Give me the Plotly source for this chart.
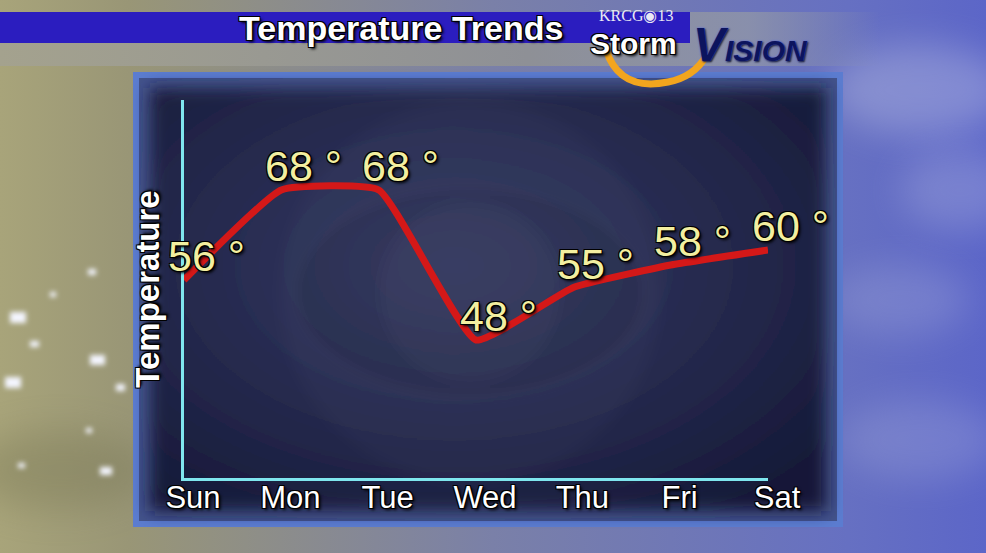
import base64
import plotly.graph_objects as go

# ---------------- data ----------------
days = ["Sun", "Mon", "Tue", "Wed", "Thu", "Fri", "Sat"]
temps = [56, 68, 68, 48, 55, 58, 60]
temp_labels = [f"{t} °" for t in temps]
chart_title = "Temperature Trends"
y_title = "Temperature"
logo_top = "KRCG◉13"
logo_storm = "Storm"
logo_vision_v = "V"
logo_vision_rest = "ISION"

# ---------------- geometry ----------------
W, H = 986, 553
L, R, T, B = 184, 218, 100, 75
PW, PH = W - L - R, H - T - B

def px_x(p):
    return (p - L) / PW

def px_y(p):
    return 1 - (p - T) / PH

svg = """<svg xmlns="http://www.w3.org/2000/svg" width="986" height="553" viewBox="0 0 986 553" preserveAspectRatio="none">
<defs>
<linearGradient id="bg" x1="0" y1="0" x2="1" y2="0">
<stop offset="0" stop-color="#a8a47a"/>
<stop offset="0.13" stop-color="#999676"/>
<stop offset="0.5" stop-color="#7a80a8"/>
<stop offset="0.86" stop-color="#6670c2"/>
<stop offset="1" stop-color="#5c66c8"/>
</linearGradient>
<linearGradient id="band" x1="0" y1="0" x2="1" y2="0">
<stop offset="0" stop-color="#a4a28e"/>
<stop offset="0.6" stop-color="#8e9096"/>
<stop offset="0.85" stop-color="#9096a8" stop-opacity="0.8"/>
<stop offset="1" stop-color="#9096a8" stop-opacity="0"/>
</linearGradient>
<radialGradient id="pg" cx="0.45" cy="0.42" r="0.7">
<stop offset="0" stop-color="#343a64"/>
<stop offset="0.55" stop-color="#262a4e"/>
<stop offset="1" stop-color="#151938"/>
</radialGradient>
<filter id="b8" x="-10%" y="-10%" width="120%" height="120%"><feGaussianBlur stdDeviation="8"/></filter>
<filter id="b3" x="-100%" y="-100%" width="300%" height="300%"><feGaussianBlur stdDeviation="2.5"/></filter>
<filter id="b20" x="-50%" y="-50%" width="200%" height="200%"><feGaussianBlur stdDeviation="18"/></filter>
<filter id="b6" x="-20%" y="-20%" width="140%" height="140%"><feGaussianBlur stdDeviation="6"/></filter>
</defs>
<rect width="986" height="553" fill="url(#bg)"/>
<ellipse cx="920" cy="90" rx="90" ry="45" fill="#c8cce8" opacity="0.35" filter="url(#b20)"/>
<ellipse cx="960" cy="190" rx="60" ry="40" fill="#c8cce8" opacity="0.25" filter="url(#b20)"/>
<ellipse cx="900" cy="300" rx="70" ry="35" fill="#c8cce8" opacity="0.2" filter="url(#b20)"/>
<ellipse cx="920" cy="440" rx="80" ry="40" fill="#c8cce8" opacity="0.2" filter="url(#b20)"/>
<ellipse cx="60" cy="470" rx="90" ry="40" fill="#6c6a48" opacity="0.3" filter="url(#b20)"/>
<g fill="#f4f6ff" filter="url(#b3)">
<rect x="10" y="312" width="16" height="11"/>
<rect x="5" y="377" width="16" height="11"/>
<rect x="90" y="355" width="15" height="10"/>
<rect x="30" y="341" width="9" height="6"/>
<rect x="88" y="269" width="8" height="6"/>
<rect x="100" y="467" width="12" height="8"/>
<rect x="18" y="463" width="7" height="5"/>
<rect x="86" y="428" width="6" height="5"/>
<rect x="116" y="384" width="9" height="7"/>
<rect x="50" y="292" width="6" height="5"/>
</g>
<rect x="0" y="12" width="880" height="54" fill="url(#band)"/>
<rect x="0" y="12" width="690" height="31" fill="#2b1dbf"/>
<rect x="133" y="72" width="710" height="455" fill="#5b7cd0"/>
<rect x="139" y="78" width="698" height="443" fill="#43538c"/>
<rect x="150" y="88" width="676" height="423" fill="url(#pg)" filter="url(#b8)"/>
<g filter="url(#b6)">
<circle cx="470" cy="292" r="190" fill="#ffffff" opacity="0.025"/>
<ellipse cx="470" cy="292" rx="175" ry="105" fill="#000010" opacity="0.08"/>
<circle cx="470" cy="292" r="90" fill="#ffffff" opacity="0.03"/>
</g>
<path d="M606 50 Q620 92 668 82 Q694 77 706 56" fill="none" stroke="#f2a51e" stroke-width="7" stroke-linecap="round"/>
</svg>"""
svg_uri = "data:image/svg+xml;base64," + base64.b64encode(svg.encode("utf-8")).decode("ascii")

outline = "-1px -1px 0 #000, 1px -1px 0 #000, -1px 1px 0 #000, 1px 1px 0 #000, 2px 2px 3px #000"
FONT = "Liberation Sans, Arial, sans-serif"

fig = go.Figure()
fig.add_trace(go.Scatter(
    x=days, y=temps, mode="lines",
    line=dict(color="#d41818", width=7, shape="spline", smoothing=0.4),
    cliponaxis=False, hoverinfo="skip", showlegend=False,
))

annotations = []
for d, t, lab in zip(days, temps, temp_labels):
    annotations.append(dict(
        x=d, y=t, text=lab, showarrow=False, xshift=22, yshift=24,
        xanchor="center", yanchor="middle",
        font=dict(family=FONT, size=43, color="#f3efa0", shadow=outline),
    ))

annotations += [
    dict(xref="paper", yref="paper", x=px_x(401), y=px_y(28), text=chart_title,
         showarrow=False, xanchor="center", yanchor="middle",
         font=dict(family=FONT, size=34, color="#ffffff", weight="bold", shadow=outline)),
    dict(xref="paper", yref="paper", x=px_x(636), y=px_y(16), text=logo_top,
         showarrow=False, xanchor="center", yanchor="middle",
         font=dict(family="Liberation Serif, serif", size=16, color="#e8e8f4")),
    dict(xref="paper", yref="paper", x=px_x(633), y=px_y(43), text=logo_storm,
         showarrow=False, xanchor="center", yanchor="middle",
         font=dict(family=FONT, size=30, color="#ffffff", weight="bold", shadow=outline)),
    dict(xref="paper", yref="paper", x=px_x(750), y=px_y(45),
         text=f"<i><span style='font-size:48px'>{logo_vision_v}</span>{logo_vision_rest}</i>",
         showarrow=False, xanchor="center", yanchor="middle",
         font=dict(family=FONT, size=30, color="#0c145e", weight="bold",
                   shadow="0 0 2px #5a6cff, 1px 1px 2px #000")),
]

fig.update_layout(
    width=W, height=H,
    margin=dict(l=L, r=R, t=T, b=B, pad=0),
    paper_bgcolor="#7a80a8", plot_bgcolor="rgba(0,0,0,0)",
    showlegend=False,
    images=[dict(source=svg_uri, xref="paper", yref="paper",
                 x=-L / PW, y=1 + T / PH, sizex=W / PW, sizey=H / PH,
                 xanchor="left", yanchor="top", sizing="stretch", layer="below")],
    annotations=annotations,
    xaxis=dict(
        type="category", range=[0, 6], showgrid=False, zeroline=False,
        showline=True, linecolor="#7fe6ee", linewidth=3, ticks="",
        tickfont=dict(family=FONT, size=31, color="#ffffff", shadow=outline),
        ticklabelshift=9, ticklabelstandoff=-10, fixedrange=True,
    ),
    yaxis=dict(
        range=[29.6, 80], showgrid=False, zeroline=False,
        showline=True, linecolor="#7fe6ee", linewidth=3, ticks="",
        showticklabels=False, fixedrange=True,
        title=dict(text=y_title, standoff=12,
                   font=dict(family=FONT, size=33, color="#ffffff", weight="bold", shadow=outline)),
    ),
)

fig.write_html("out.html", config={"displayModeBar": False},
               post_script="document.body.style.margin='0';document.body.style.overflow='hidden';")
